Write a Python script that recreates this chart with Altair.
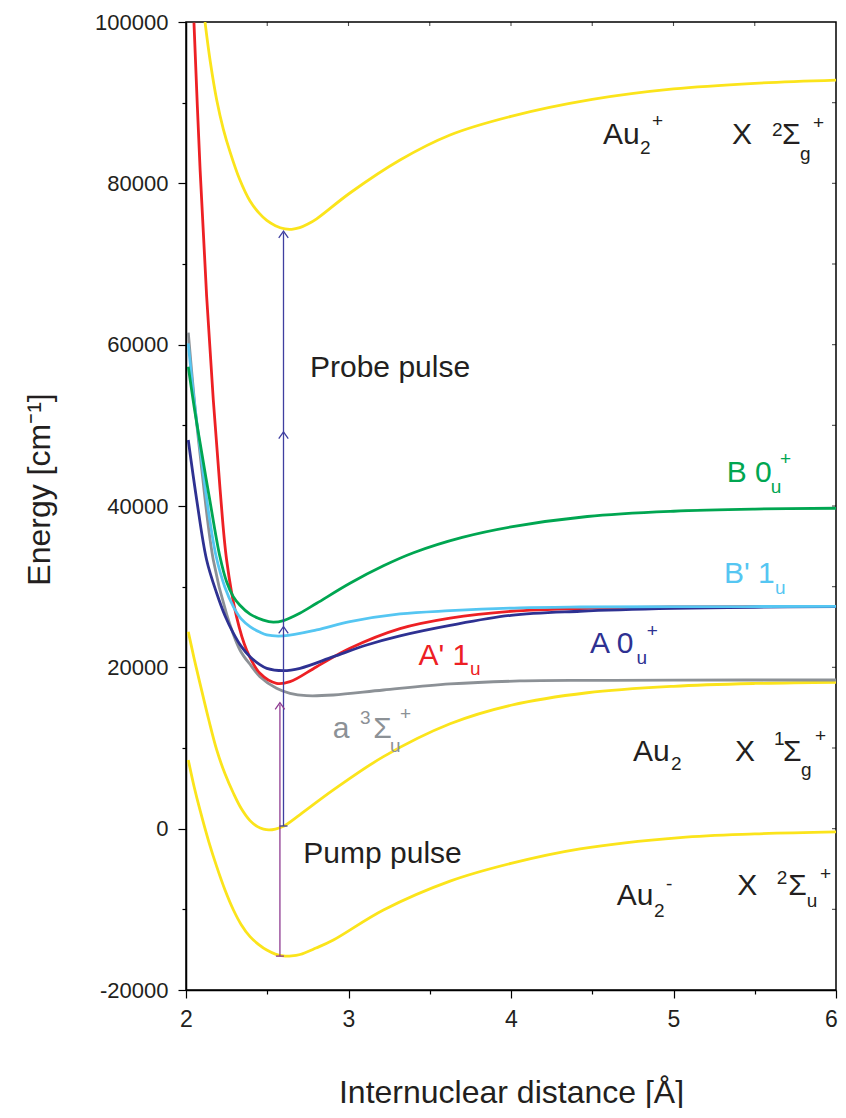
import altair as alt
import pandas as pd

# ---------------- data ----------------
# Au2+  X 2Sigma_g+  (cation, top yellow curve)
cat_r = [2.117, 2.15, 2.189, 2.23, 2.271, 2.33, 2.394, 2.45, 2.497, 2.55, 2.609, 2.65, 2.7, 2.75, 2.804, 3.009, 3.317, 3.625, 4.0, 4.5, 5.0, 5.5, 6.0]
cat_E = [100000, 95000, 90330, 86700, 83900, 80500, 77800, 76300, 75400, 74750, 74350, 74300, 74500, 74950, 75600, 78800, 82890, 85990, 88300, 90400, 91700, 92400, 92800]

# Au2 X 1Sigma_g+ (neutral ground state, middle yellow curve)
neu_r = [2.014, 2.05, 2.086, 2.14, 2.189, 2.24, 2.292, 2.34, 2.394, 2.44, 2.477, 2.51, 2.55, 2.60, 2.702, 2.907, 3.215, 3.625, 4.0, 4.47, 5.0, 5.5, 6.0]
neu_E = [24420, 21100, 18020, 13500, 9760, 6800, 4390, 2500, 1000, 250, -50, -150, -50, 300, 1750, 4800, 8930, 13000, 15300, 16850, 17650, 18000, 18150]

# Au2- X 2Sigma_u+ (anion, bottom yellow curve)
ani_r = [2.014, 2.05, 2.086, 2.14, 2.189, 2.24, 2.292, 2.34, 2.394, 2.45, 2.497, 2.55, 2.599, 2.65, 2.702, 2.8, 2.907, 3.215, 3.625, 4.0, 4.425, 5.04, 5.5, 6.0]
ani_E = [8520, 5200, 2320, -1600, -4710, -7600, -10080, -11900, -13390, -14400, -15050, -15550, -15780, -15780, -15600, -14800, -13800, -10080, -6500, -4300, -2500, -1100, -650, -400]

# a 3Sigma_u+ (grey)
a_r = [2.014, 2.05, 2.086, 2.168, 2.25, 2.332, 2.40, 2.455, 2.557, 2.64, 2.742, 2.907, 3.215, 3.625, 4.055, 4.5, 5.0, 6.0]
a_E = [61490, 53400, 46540, 33310, 26600, 22150, 20200, 18840, 17400, 16780, 16490, 16570, 17190, 17940, 18310, 18380, 18420, 18430]

# A' 1u (red)
ap_r = [2.049, 2.086, 2.127, 2.168, 2.21, 2.25, 2.311, 2.373, 2.455, 2.557, 2.64, 2.804, 3.009, 3.317, 3.625, 4.0, 4.5, 5.0, 6.0]
ap_E = [99920, 82060, 66000, 53140, 42000, 33310, 26280, 22150, 19260, 18020, 18220, 20080, 22360, 24800, 26100, 26950, 27330, 27480, 27560]

# A 0u+ (dark blue)
A_r = [2.014, 2.066, 2.127, 2.189, 2.24, 2.292, 2.34, 2.394, 2.45, 2.497, 2.599, 2.702, 2.907, 3.112, 3.317, 3.625, 4.0, 4.425, 5.0, 5.5, 6.0]
A_E = [48180, 40750, 33310, 29180, 26400, 24220, 22600, 21320, 20400, 19880, 19590, 19880, 21320, 22770, 23900, 25200, 26450, 26950, 27300, 27450, 27520]

# B' 1u (light blue)
bp_r = [2.014, 2.05, 2.086, 2.13, 2.185, 2.24, 2.292, 2.34, 2.394, 2.45, 2.497, 2.599, 2.804, 3.009, 3.317, 3.625, 4.055, 4.425, 5.0, 6.0]
bp_E = [60170, 53100, 47360, 40500, 33800, 29900, 27500, 26000, 25040, 24400, 24010, 23890, 24630, 25660, 26620, 27020, 27380, 27480, 27520, 27550]

# B 0u+ (green)
B_r = [2.014, 2.05, 2.086, 2.15, 2.209, 2.25, 2.29, 2.332, 2.394, 2.476, 2.537, 2.6, 2.7, 2.804, 3.009, 3.215, 3.40, 3.7, 4.0, 4.47, 5.0, 5.5, 6.0]
B_E = [57270, 52300, 47900, 40300, 33700, 30600, 28800, 27700, 26600, 25850, 25600, 25800, 26700, 27940, 30420, 32580, 34200, 36100, 37400, 38700, 39350, 39620, 39720]

# vertical transitions (pump, probe)
arrow_r = [2.578, 2.6]
arrow_from = [-15800, 330]
arrow_to = [15400, 73900]
# arrow heads along the arrows
head_r = [2.578, 2.6, 2.6, 2.6]
head_E = [15450, 24870, 49000, 73900]
head_kind = ["pump", "probe", "probe", "probe"]

# tick positions of the axes
xvals = [2 + 0.5 * i for i in range(9)]
yvals = list(range(-20000, 100001, 10000))

# ---------------- styling ----------------
FONT = "Liberation Sans, Arial, Helvetica, sans-serif"
BLACK = "#231F20"
YELLOW = "#FBE41B"
GREY = "#8C9196"
RED = "#ED2024"
DBLUE = "#2E3192"
LBLUE = "#55C6F2"
GREEN = "#00A651"
PUMP = "#8E3A91"
PROBE = "#3F3FA0"

X = alt.X("r:Q", scale=alt.Scale(domain=[2, 6], nice=False, zero=False),
          axis=alt.Axis(values=xvals,
                        labelExpr="datum.value % 1 === 0 ? '' + datum.value : ''",
                        tickSize={"condition": {"test": "datum.value % 1 === 0", "value": 8}, "value": 4},
                        labelOffset={"condition": {"test": "datum.value === 6", "value": -5}, "value": 0},
                        labelFontSize=23, labelPadding=10, labelFlush=False, labelOverlap=False,
                        title="Internuclear distance [Å]", titleFontSize=32, titleFontWeight="normal",
                        titleBaseline="alphabetic", titleY=112))
Y = alt.Y("E:Q", scale=alt.Scale(domain=[-20000, 100000], nice=False, zero=False),
          axis=alt.Axis(values=yvals,
                        labelExpr="datum.value % 20000 === 0 ? '' + datum.value : ''",
                        tickSize={"condition": {"test": "datum.value % 20000 === 0", "value": 8}, "value": 4},
                        labelFontSize=22, labelPadding=10, labelFlush=False, labelOverlap=False,
                        title="Energy [cm⁻¹]", titleFontSize=32, titleFontWeight="normal",
                        titleBaseline="alphabetic", titleAngle=-90, titleX=-137, titleY=467,
                        titleAlign="center"))


def curve(rs, es, color, width=2.8):
    df = pd.DataFrame({"r": rs, "E": es})
    return alt.Chart(df).mark_line(color=color, strokeWidth=width, interpolate="catmull-rom",
                                   clip=True).encode(x=X, y=Y)


layers = [
    curve(ani_r, ani_E, YELLOW),
    curve(neu_r, neu_E, YELLOW),
    curve(cat_r, cat_E, YELLOW),
    curve(a_r, a_E, GREY),
    curve(ap_r, ap_E, RED),
    curve(A_r, A_E, DBLUE),
    curve(bp_r, bp_E, LBLUE),
    curve(B_r, B_E, GREEN),
]

# mirrored small ticks on the top and right frame
top_ticks = pd.DataFrame({"r": xvals[1:-1]})
layers.append(alt.Chart(top_ticks).mark_tick(orient="vertical", size=4, thickness=1.1, color="black")
              .encode(x=X, y=alt.value(2)))
right_ticks = pd.DataFrame({"E": yvals[1:-1]})
layers.append(alt.Chart(right_ticks).mark_tick(orient="horizontal", size=4, thickness=1.1, color="black")
              .encode(y=Y, x=alt.value(648)))

arrows = pd.DataFrame({"r": arrow_r, "E": arrow_from, "E2": arrow_to,
                       "kind": ["pump", "probe"]})
acol = alt.Color("kind:N", scale=alt.Scale(domain=["pump", "probe"], range=[PUMP, PROBE]), legend=None)
layers.append(alt.Chart(arrows).mark_rule(strokeWidth=1.3).encode(x=X, y=Y, y2="E2:Q", color=acol))
# small caps at the arrow bases
layers.append(alt.Chart(arrows).mark_point(shape="M-1,0L1,0", filled=False, size=64, strokeWidth=1.3,
                                           opacity=1).encode(x=X, y=Y, color=acol))
heads = pd.DataFrame({"r": head_r, "E": head_E, "kind": head_kind})
layers.append(alt.Chart(heads).mark_point(shape="M-1,1.1L0,-0.3L1,1.1", filled=False, size=90,
                                          strokeWidth=1.3, opacity=1).encode(x=X, y=Y, color=acol))

# ---------------- text annotations (main text / sub / superscripts) ----------------
S, s = 30, 19
labels = [
    ("Au", 4.566, 84880, S, BLACK), ("2", 4.794, 83640, s, BLACK), ("+", 4.868, 86980, s, BLACK),
    ("X", 5.360, 84880, S, BLACK), ("2", 5.606, 85870, s, BLACK), ("Σ", 5.668, 84880, S, BLACK),
    ("g", 5.778, 82900, s, BLACK), ("+", 5.858, 86730, s, BLACK),
    ("Probe pulse", 2.763, 55950, S, BLACK),
    ("B 0", 5.327, 43010, S, GREEN), ("u", 5.598, 41580, s, GREEN), ("+", 5.655, 45080, s, GREEN),
    ("B' 1", 5.311, 30420, S, LBLUE), ("u", 5.625, 29090, s, LBLUE),
    ("A 0", 4.486, 21740, S, DBLUE), ("u", 4.773, 20420, s, DBLUE), ("+", 4.835, 23760, s, DBLUE),
    ("A' 1", 3.43, 20290, S, RED), ("u", 3.748, 19050, s, RED),
    ("a", 2.903, 11200, S, GREY), ("3", 3.071, 12980, s, GREY), ("Σ", 3.153, 11240, S, GREY),
    ("u", 3.255, 9540, s, GREY), ("+", 3.317, 13470, s, GREY),
    ("Au", 4.751, 8420, S, BLACK), ("2", 4.985, 7280, s, BLACK), ("X", 5.378, 8420, S, BLACK),
    ("1", 5.618, 10380, s, BLACK), ("Σ", 5.674, 8420, S, BLACK), ("g", 5.785, 6530, s, BLACK),
    ("+", 5.871, 10750, s, BLACK),
    ("Pump pulse", 2.722, -4290, S, BLACK),
    ("Au", 4.650, -9460, S, BLACK), ("2", 4.88, -10910, s, BLACK), ("-", 4.954, -7600, s, BLACK),
    ("X", 5.393, -8220, S, BLACK), ("2", 5.635, -6850, s, BLACK), ("Σ", 5.706, -8220, S, BLACK),
    ("u", 5.82, -9670, s, BLACK), ("+", 5.902, -6360, s, BLACK),
]
lab = pd.DataFrame(labels, columns=["text", "r", "E", "size", "color"])
layers.append(alt.Chart(lab).mark_text(align="left", baseline="alphabetic", font=FONT).encode(
    x=X, y=Y, text="text:N", size=alt.Size("size:Q", scale=None), color=alt.Color("color:N", scale=None)))

chart = alt.layer(*layers).properties(
    width=650, height=968,
    autosize=alt.AutoSizeParams(type="none"),
    padding={"left": 178, "top": 14, "right": 2, "bottom": 118},
).configure_view(stroke="black", strokeWidth=1.5).configure_axis(
    domainColor="black", domainWidth=1.5, tickColor="black", tickWidth=1.2,
    labelColor=BLACK, titleColor=BLACK, grid=False, labelFont=FONT, titleFont=FONT,
)

chart.save("out.html", embed_options={"renderer": "svg", "actions": False})
